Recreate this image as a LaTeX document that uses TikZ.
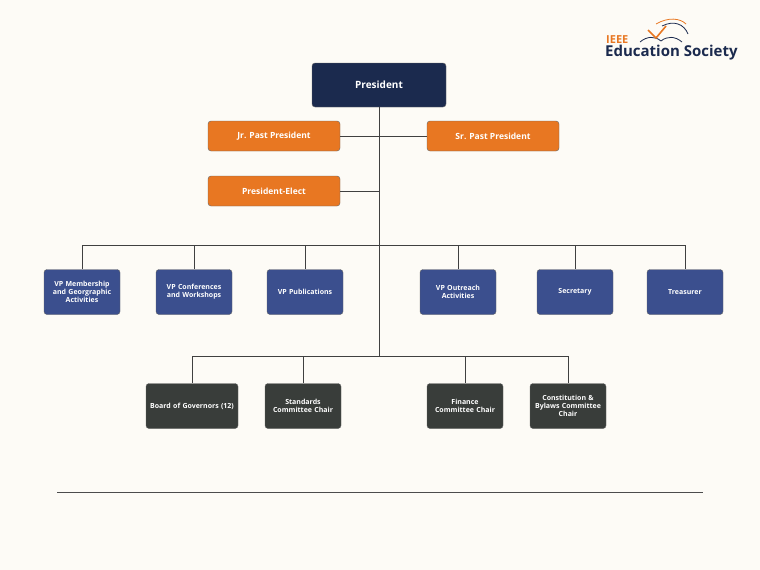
\documentclass[tikz,border=0pt]{standalone}
\usepackage{fontspec}
\setmainfont{Open Sans}
\usepackage{tikz}
\usepackage{xcolor}
\definecolor{navy}{HTML}{1B2A4E}
\definecolor{ieeeorange}{HTML}{E87722}
\definecolor{vpblue}{HTML}{3B4F8E}
\definecolor{chairgray}{HTML}{393D3A}
\definecolor{paper}{HTML}{FDFBF6}
\tikzset{
  box/.style={draw=black!60, rounded corners=3pt, text=white, align=center,
    font=\fontsize{7}{8}\selectfont\bfseries, inner sep=1pt},
  officer/.style={box, fill=ieeeorange, minimum width=132pt, minimum height=30pt,
    font=\fontsize{8.5}{10}\selectfont\bfseries},
  vp/.style={box, fill=vpblue, minimum width=76pt, minimum height=45pt, text width=74pt},
  chair/.style={box, fill=chairgray, minimum width=75pt, minimum height=45pt, text width=74pt},
  link/.style={draw=black!75, line width=0.6pt}
}
\begin{document}
\begin{tikzpicture}[x=1pt,y=-1pt]
  % background
  \fill[paper] (0,0) rectangle (760,570);
  \useasboundingbox (0,0) rectangle (760,570);

  % logo
  \node[anchor=south west, inner sep=0, text=ieeeorange, font=\fontsize{11}{12}\selectfont\bfseries] (ieee) at (606,44) {IEEE};
  \node[anchor=north west, inner sep=0, text=navy, font=\fontsize{15}{16}\selectfont\bfseries] (society) at (605,45) {Education Society};
  \draw[navy, line width=0.8pt] (640,42) .. controls (647,36) and (655,36) .. (661,41) .. controls (667,36) and (675,36) .. (682,42);
  \draw[ieeeorange, line width=1.6pt] (648,30) -- (656,38) -- (666,26);
  \draw[navy, line width=0.8pt] (662,26) .. controls (674,20) and (684,24) .. (688,34);
  \draw[ieeeorange, line width=0.8pt] (656,24) .. controls (668,17) and (680,18) .. (686,24);

  % top officers
  \node[box, fill=navy, minimum width=134pt, minimum height=44pt, font=\fontsize{10}{11}\selectfont\bfseries] (pres) at (379,85) {President};
  \node[officer] (jr) at (274,136) {Jr. Past President};
  \node[officer] (sr) at (493,136) {Sr. Past President};
  \node[officer] (elect) at (274,191) {President-Elect};

  % vice presidents and officers
  \node[vp] (vpm) at (82,292) {VP Membership\\and Georgraphic\\Activities};
  \node[vp] (vpc) at (194,292) {VP Conferences\\and Workshops};
  \node[vp] (vpp) at (305,292) {VP Publications};
  \node[vp] (vpo) at (458,292) {VP Outreach\\Activities};
  \node[vp] (sec) at (575,292) {Secretary};
  \node[vp] (tre) at (685,292) {Treasurer};

  % committees
  \node[chair, minimum width=92pt, text width=90pt] (bog) at (192,406) {Board of Governors (12)};
  \node[chair] (std) at (303,406) {Standards\\Committee Chair};
  \node[chair] (fin) at (465,406) {Finance\\Committee Chair};
  \node[chair] (con) at (568,406) {Constitution \&\\Bylaws Committee\\Chair};

  % connectors
  \coordinate (bus) at (379,245);
  \coordinate (low) at (379,356);
  \draw[link] (pres.south) -- (low);
  \draw[link] (jr.east) -- (sr.west);
  \draw[link] (elect.east) -- (elect.east -| pres);
  \draw[link] (vpm.north |- bus) -- (tre.north |- bus);
  \foreach \n in {vpm,vpc,vpp,vpo,sec,tre}
    \draw[link] (\n.north |- bus) -- (\n.north);
  \draw[link] (bog.north |- low) -- (con.north |- low);
  \foreach \n in {bog,std,fin,con}
    \draw[link] (\n.north |- low) -- (\n.north);

  % footer rule
  \draw[black!70, line width=0.5pt] (57,492) -- (703,492);
\end{tikzpicture}
\end{document}
